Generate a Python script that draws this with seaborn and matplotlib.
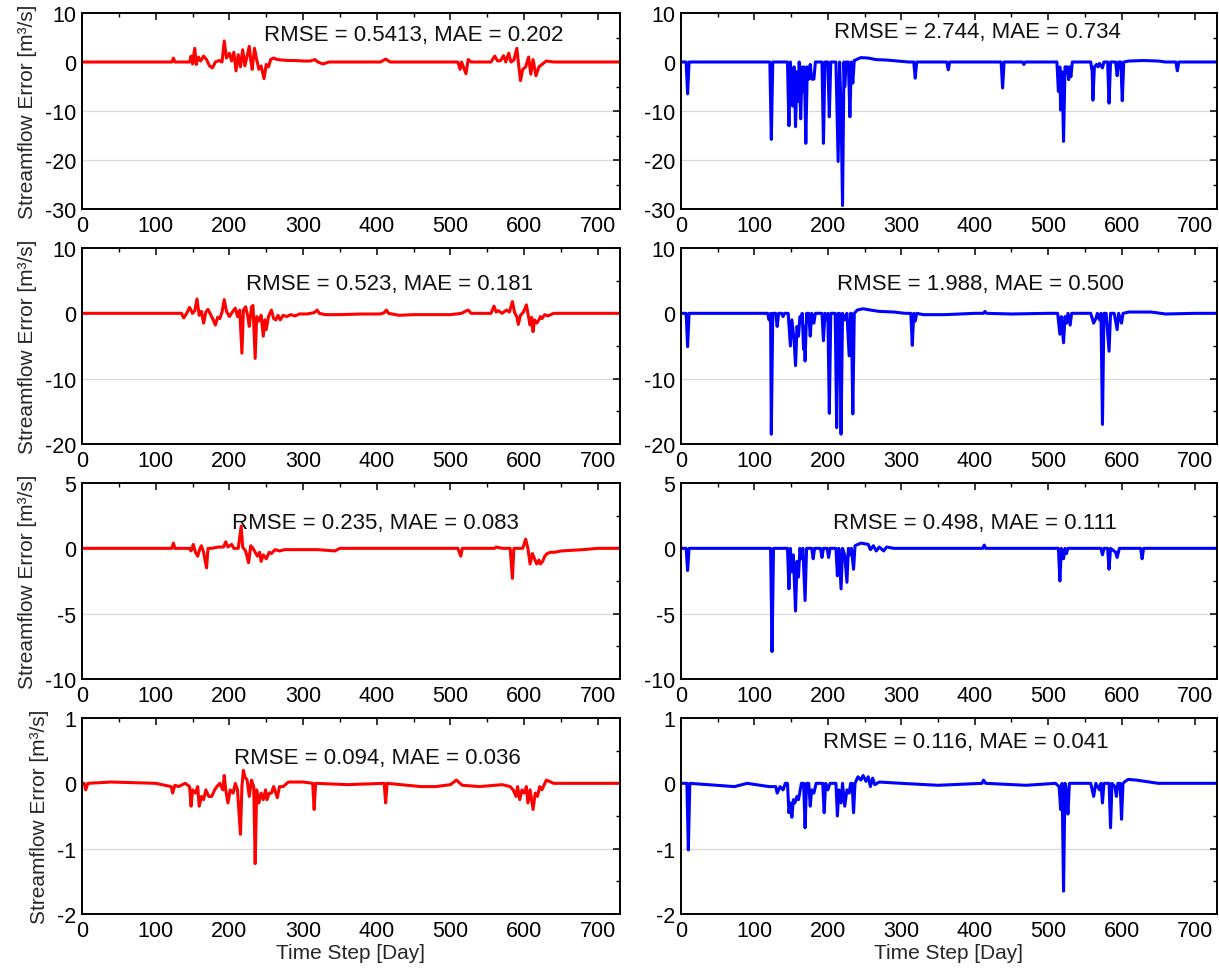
import numpy as np
import pandas as pd
import matplotlib
matplotlib.use("Agg")
import matplotlib.pyplot as plt
from matplotlib.ticker import MultipleLocator
import seaborn as sns

# ---------------- data: (day, streamflow error) knots ----------------
err_a = [(0,0),(122,0),(124,0.8),(126,0),(146,0),(148,1.2),(150,-0.4),(153,2.8),(155,-0.5),(158,1.0),
         (161,0.2),(165,1.2),(169,0.5),(173,-0.8),(177,-1.2),(181,0),(186,0.3),(190,0),(193,4.3),(196,0.8),
         (200,1.8),(203,0.2),(206,2.0),(209,-1.8),(212,1.5),(215,-1.0),(218,2.5),(221,-0.8),(224,1.2),
         (227,3.2),(229,0.3),(231,-1.5),(234,2.8),(237,0.5),(240,-1.5),(243,-0.8),(247,-3.4),(250,-0.5),
         (253,-1.0),(256,0.5),(260,0.8),(265,0.5),(272,0.4),(280,0.3),(290,0.3),(300,0.2),(310,0.2),
         (316,0.5),(320,0),(327,-0.4),(335,0),(405,0),(412,0.6),(418,0),(510,0),(513,-1.5),(515,0),
         (518,-1.2),(521,-2.4),(524,0.5),(528,0),(555,0),(560,1.2),(564,0.2),(568,0.3),(572,1.3),(575,0),
         (579,1.8),(582,0),(586,0.4),(590,2.8),(592,0),(595,-3.8),(598,-1.5),(602,-1.0),(606,1.0),
         (609,-2.5),(612,0.5),(616,-2.8),(620,-1.0),(624,-0.5),(630,0.2),(640,0),(730,0)]

err_b = [(0,0),(7,0),(9,-6.5),(11,0),(121,0),(123,-15.8),(125,0),(145,0),(147,-13.0),(149,0),(152,-9),
         (154,-1),(156,-13.2),(158,-2),(160,-8),(161,0),(163,-11.6),(165,-1),(167,-6),(168,-1),(170,-16.6),
         (172,-1),(174,-3.5),(176,-0.5),(178,-3.5),(181,-3.5),(183,0),(192,0),(194,-16.6),(196,0),(200,0),
         (202,-11.2),(204,0),(211,0),(214,-20.3),(216,0),(218,-10),(220,-29.3),(222,0),(223,-5),(225,0),
         (228,0),(230,-11.2),(232,0),(234,-4.3),(236,0.3),(245,0.9),(255,0.8),(265,0.5),(280,0.4),
         (295,0.2),(310,0),(317,0),(319,-3.3),(321,0),(362,0),(364,-1.6),(366,0),(436,0),(438,-5.3),
         (440,0),(465,0),(467,-0.5),(469,0),(512,0),(514,-6),(516,-1),(517,-9.8),(519,-2),(521,-16.2),
         (523,-1),(526,-1),(528,-3.6),(529,-1),(531,-3),(533,0),(558,0),(560,-2),(561,-7.8),(563,-1),
         (566,-0.5),(568,-1),(570,-0.3),(574,-1.2),(576,0),(581,0),(583,-8.4),(585,0),(592,0),(594,-2.8),
         (596,0),(599,0),(601,-7.9),(603,0),(610,0.2),(630,0.3),(650,0.2),(660,0),(674,0),(676,-1.8),
         (678,0),(730,0)]

err_c = [(0,0),(135,0),(138,-0.7),(142,0),(146,0.9),(150,0),(153,0.4),(156,2.2),(159,-0.3),(162,0.3),
         (165,-1.5),(168,0.2),(171,0.6),(175,-0.3),(178,-1.0),(181,-1.8),(184,-0.6),(187,-0.8),(190,0.2),
         (193,2.1),(196,0.3),(200,-0.5),(204,0.2),(208,0.8),(211,-0.5),(214,0.5),(217,-6.1),(219,0.5),
         (222,1.0),(225,-0.5),(227,-2.0),(230,1.0),(232,1.2),(235,-6.9),(237,-0.5),(240,-1.2),(243,-0.3),
         (246,-3.5),(248,-1),(250,-2.5),(253,-0.5),(257,0.5),(260,-0.8),(263,-1.0),(266,-0.3),(269,-1.0),
         (273,-0.3),(278,-0.5),(283,-0.2),(289,-0.4),(295,-0.1),(305,-0.1),(315,0.1),(319,0.5),(322,0),
         (330,-0.2),(350,-0.2),(380,-0.1),(405,-0.1),(410,0.1),(413,0.5),(416,0),(430,-0.3),(450,-0.2),
         (480,-0.2),(500,-0.2),(515,0),(520,0.3),(524,0.5),(528,0),(555,0),(559,1.1),(562,0.2),(565,0.4),
         (570,0),(576,0.5),(580,0.2),(584,1.8),(587,0.1),(590,-0.5),(592,-1.7),(595,-0.3),(599,0.2),
         (603,1.3),(605,0),(608,-1.8),(610,-0.6),(612,-2.8),(614,-1.0),(617,-1.5),(619,-1.2),(622,-0.5),
         (624,-0.8),(628,-0.2),(632,-0.4),(640,0),(730,0)]

err_d = [(0,0),(7,0),(9,-5.1),(11,0),(118,0),(120,-1),(122,0),(123,-18.5),(125,0),(129,0),(131,-2),
         (133,0),(137,0),(139,-0.5),(141,0),(146,0),(149,-5),(151,-1),(154,-4),(156,-8),(158,-2),(160,-3.5),
         (162,-0.5),(164,-1),(165,0),(167,-5.5),(168,-2),(169,-7.3),(171,0),(174,0),(176,-3.5),(178,0),
         (181,-1.5),(183,0),(192,0),(194,-4.2),(196,0),(199,-1),(200,0),(202,-15.3),(204,0),(210,0),
         (212,-17.5),(214,0),(215,-10),(216,0),(218,-18.5),(220,0),(223,-1),(226,0),(229,-6.5),(231,0),
         (232,0),(234,-15.4),(236,0),(240,0.5),(248,0.7),(258,0.5),(270,0.3),(290,0.2),(305,0),(313,0),
         (315,-4.9),(317,0),(319,-1.2),(321,0),(330,-0.2),(360,-0.2),(400,0),(412,0),(414,0.3),(416,0),
         (450,-0.1),(500,0),(513,0),(516,-3.2),(518,-0.5),(521,-4.5),(523,-0.5),(525,-1.5),(527,0),
         (530,-1.8),(532,0),(558,0),(562,-1.5),(565,-0.8),(567,0),(570,-1),(572,0),(574,-17),(576,0),
         (579,0),(583,-5.8),(585,0),(590,0),(594,-2.5),(596,0),(600,-1.5),(602,0),(610,0.2),(640,0.2),
         (660,-0.1),(700,0),(730,0)]

err_e = [(0,0),(122,0),(124,0.4),(126,0),(146,0),(148,-0.2),(151,0.3),(154,-0.3),(157,-0.6),(160,0),
         (162,0.2),(165,-0.3),(169,-1.5),(171,0),(176,0),(185,0.1),(192,0.1),(195,0.5),(198,0.1),(203,0.3),
         (206,0),(212,0),(216,1.7),(218,0.1),(222,-0.2),(226,-1.1),(229,0.2),(232,0),(235,-0.3),(238,-0.6),
         (241,-0.3),(243,-1.0),(246,-0.5),(250,-0.8),(254,-0.3),(257,-0.4),(262,-0.1),(268,-0.2),(275,-0.1),
         (290,-0.1),(320,-0.1),(343,-0.2),(350,0),(510,0),(514,-0.6),(516,0),(520,0),(560,0),(562,0.1),
         (570,0),(581,0),(584,-2.3),(586,0),(598,0),(602,0.7),(605,0),(608,-1.2),(611,-0.4),(614,-0.8),
         (617,-1.2),(620,-0.9),(622,-1.2),(625,-1.0),(628,-0.6),(631,-0.4),(636,-0.3),(641,-0.3),
         (650,-0.2),(680,-0.1),(700,0),(730,0)]

err_f = [(0,0),(7,0),(9,-1.7),(11,0),(122,0),(124,-7.9),(126,0),(145,0),(147,-3.1),(149,0),(151,-1.8),
         (153,-0.5),(156,-4.8),(158,-1),(160,-2.2),(162,0),(164,-0.8),(166,0),(169,-4.0),(171,0),(178,0),
         (180,-0.8),(182,0),(190,0),(192,-0.7),(194,0),(199,0),(201,-0.7),(203,0),(211,0),(213,-2.1),
         (215,0),(218,-3.1),(220,0),(223,-0.5),(226,-2.6),(228,0),(230,-0.5),(232,0),(235,-1.6),(237,0.2),
         (245,0.4),(255,0.3),(258,-0.1),(262,0.2),(266,-0.2),(270,0.1),(276,-0.2),(280,0.1),(290,0),
         (411,0),(413,0.25),(415,0),(514,0),(516,-2.5),(518,0),(521,-0.8),(523,0),(525,-0.4),(527,0),
         (572,0),(574,-0.5),(576,0),(581,0),(583,-1.6),(585,0),(592,-0.3),(594,-0.7),(597,0),(626,0),
         (628,-0.8),(630,0),(730,0)]

err_g = [(0,0),(3,0),(5,-0.1),(8,0),(40,0.02),(100,0),(121,-0.05),(123,-0.15),(126,-0.03),(131,-0.05),
         (140,0),(146,-0.05),(148,-0.35),(150,-0.1),(154,-0.15),(157,-0.05),(159,-0.35),(162,-0.2),
         (165,-0.25),(168,-0.1),(172,-0.2),(176,-0.2),(180,-0.1),(183,-0.05),(187,0),(191,-0.1),(193,0.12),
         (195,-0.1),(198,-0.3),(201,-0.1),(205,-0.15),(208,0),(211,-0.1),(215,-0.78),(217,-0.05),(219,0.2),
         (221,0.1),(224,0.05),(227,-0.2),(230,0.05),(233,-0.05),(235,-1.23),(237,-0.1),(240,-0.3),
         (243,-0.15),(246,-0.25),(249,-0.1),(251,-0.25),(254,-0.15),(257,-0.15),(260,-0.05),(265,-0.22),
         (268,-0.05),(273,-0.05),(280,0.02),(300,0.02),(313,0),(315,-0.4),(317,0),(360,-0.02),(410,0),
         (412,-0.3),(414,0),(460,-0.05),(480,-0.05),(500,-0.02),(508,0.05),(516,-0.03),(540,-0.05),
         (570,-0.02),(581,-0.05),(585,-0.1),(589,-0.2),(591,-0.05),(594,-0.25),(597,-0.1),(600,-0.15),
         (603,-0.05),(605,-0.3),(608,-0.1),(612,-0.4),(615,-0.15),(618,-0.2),(621,-0.05),(624,-0.1),
         (630,0.05),(640,0),(730,0)]

err_h = [(0,0),(8,0),(10,-1.02),(12,0),(73,-0.05),(90,0),(120,-0.05),(129,-0.05),(131,-0.15),(135,-0.05),
         (139,-0.1),(142,0),(145,0),(147,-0.45),(149,-0.3),(151,-0.52),(153,-0.25),(155,-0.3),(158,-0.2),
         (160,-0.25),(164,0),(167,0),(169,-0.68),(171,0),(174,0),(176,-0.35),(178,-0.1),(181,-0.15),
         (184,0),(193,0),(195,-0.45),(197,0),(200,-0.1),(203,0),(211,0),(213,-0.5),(215,-0.1),(218,-0.3),
         (220,0),(223,-0.35),(226,-0.1),(229,-0.15),(231,0),(233,0),(235,-0.45),(237,0),(241,0.1),
         (245,0.05),(248,0.12),(252,0.03),(255,0.1),(258,-0.05),(261,0.08),(264,-0.02),(270,0.02),(300,0),
         (350,-0.03),(410,0),(412,0.05),(415,0),(470,-0.03),(510,0),(515,-0.05),(517,-0.4),(519,0),
         (521,-1.65),(523,0),(525,-0.1),(527,-0.47),(529,0),(558,0),(562,-0.2),(565,0),(570,-0.1),(572,0),
         (574,-0.3),(576,0),(583,0),(585,-0.68),(587,0),(591,-0.05),(593,-0.2),(595,0),(598,0),(600,-0.55),
         (602,0),(605,0.03),(609,0.06),(620,0.05),(650,0),(730,0)]

metric_labels = ["RMSE = 0.5413, MAE = 0.202", "RMSE = 2.744, MAE = 0.734",
                 "RMSE = 0.523, MAE = 0.181", "RMSE = 1.988, MAE = 0.500",
                 "RMSE = 0.235, MAE = 0.083", "RMSE = 0.498, MAE = 0.111",
                 "RMSE = 0.094, MAE = 0.036", "RMSE = 0.116, MAE = 0.041"]
y_limits = [(-30, 10), (-30, 10), (-20, 10), (-20, 10), (-10, 5), (-10, 5), (-2, 1), (-2, 1)]
y_steps = [10, 10, 10, 10, 5, 5, 1, 1]
x_ticks = [0, 100, 200, 300, 400, 500, 600, 700]
series = [err_a, err_b, err_c, err_d, err_e, err_f, err_g, err_h]

# ---------------- style ----------------
sns.set_theme(style="white")
plt.rcParams['font.family'] = ['Liberation Sans', 'DejaVu Sans']
plt.rcParams.update({
    'axes.unicode_minus': False,
    'xtick.direction': 'in', 'ytick.direction': 'in',
    'xtick.top': True, 'ytick.right': True,
    'xtick.major.size': 5, 'ytick.major.size': 5,
    'xtick.minor.size': 3, 'ytick.minor.size': 3,
    'xtick.major.width': 1.1, 'ytick.major.width': 1.1,
    'xtick.minor.width': 1.0, 'ytick.minor.width': 1.0,
    'xtick.color': 'black', 'ytick.color': 'black',
    'axes.edgecolor': 'black', 'axes.linewidth': 1.4,
})

W, H = 1219, 970
fig = plt.figure(figsize=(W / 100, H / 100), dpi=100)
col_left = [82, 681]
col_width = [538, 536]
row_top = [14, 249, 484, 719]
row_h = 196
colors = ['#ff0000', '#0000ff']
text_x = [450, 404, 417, 408, 398, 401, 401, 388]
text_y = [0.89, 0.905, 0.82, 0.82, 0.80, 0.80, 0.80, 0.88]

for i, data in enumerate(series):
    r, c = divmod(i, 2)
    rect = [col_left[c] / W, 1 - (row_top[r] + row_h) / H, col_width[c] / W, row_h / H]
    ax = fig.add_axes(rect)
    df = pd.DataFrame(data, columns=['day', 'err'])
    ax.grid(False)
    lo, hi = y_limits[i]
    step = y_steps[i]
    for yv in np.arange(lo + step, hi, step):
        if abs(yv) > 1e-9:
            ax.axhline(yv, color='#d9d9d9', lw=0.9, zorder=0)
    sns.lineplot(data=df, x='day', y='err', ax=ax, color=colors[c], lw=2.2,
                 estimator=None, sort=False, legend=False)
    ax.set_xlim(0, 730)
    ax.set_ylim(lo, hi)
    ax.set_xticks(x_ticks)
    ax.xaxis.set_minor_locator(MultipleLocator(50))
    ax.set_yticks(np.arange(lo, hi + step / 2, step))
    ax.yaxis.set_minor_locator(MultipleLocator(step / 2))
    ax.tick_params(axis='both', which='both', labelsize=15.5, pad=4)
    ax.tick_params(axis='x', which='major', pad=4)
    ax.set_xlabel('Time Step [Day]' if r == 3 else '', fontsize=15, labelpad=2)
    ax.set_ylabel('Streamflow Error [m³/s]' if c == 0 else '', fontsize=15, labelpad=6)
    for s in ax.spines.values():
        s.set_visible(True)
        s.set_color('black')
        s.set_linewidth(1.4)
    ax.text(text_x[i], text_y[i], metric_labels[i], transform=ax.get_xaxis_transform(),
            ha='center', va='center', fontsize=16, color='#111111')

fig.savefig('out.png', dpi=100)
